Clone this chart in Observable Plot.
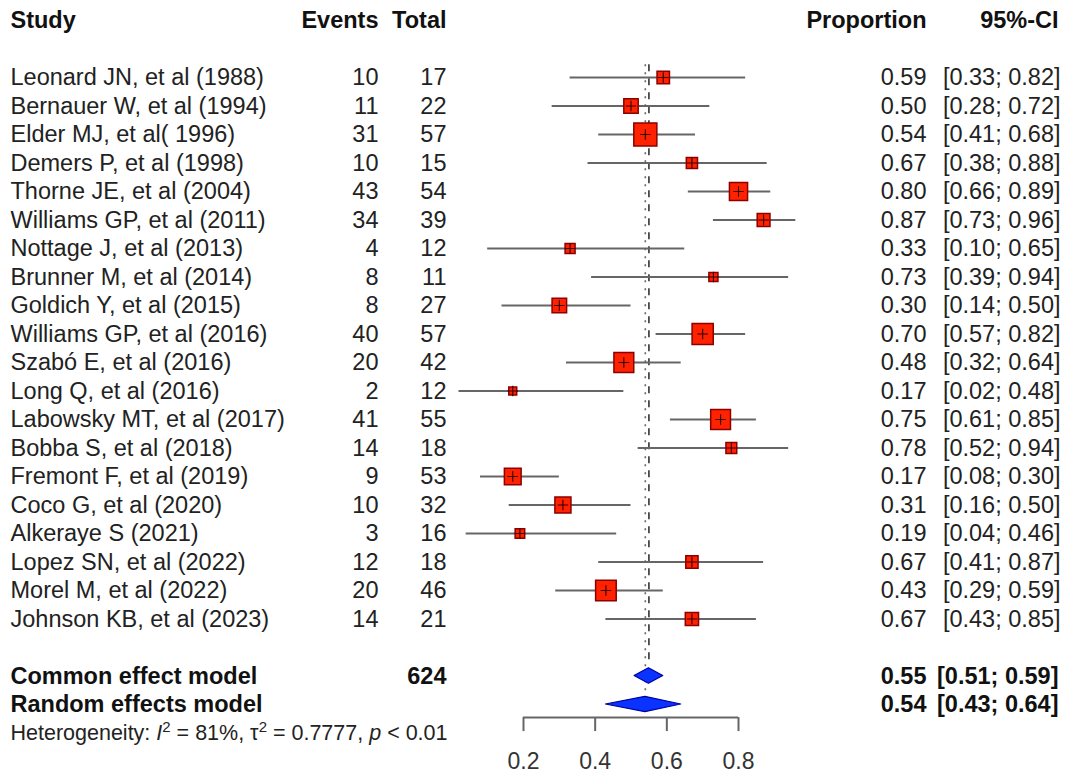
<!DOCTYPE html>
<html>
<head>
<meta charset="utf-8">
<script src="https://cdn.jsdelivr.net/npm/d3@7"></script>
<script src="https://cdn.jsdelivr.net/npm/@observablehq/plot@0.6"></script>
<style>
  html, body { margin: 0; padding: 0; background: #fff; }
  #chart svg { display: block; }
</style>
</head>
<body>
<div id="chart"></div>
<script>
// ---- data ----
const studies = [
  "Leonard JN, et al (1988)", "Bernauer W, et al (1994)", "Elder MJ, et al( 1996)",
  "Demers P, et al (1998)", "Thorne JE, et al (2004)", "Williams GP, et al (2011)",
  "Nottage J, et al (2013)", "Brunner M, et al (2014)", "Goldich Y, et al (2015)",
  "Williams GP, et al (2016)", "Szabó E, et al (2016)", "Long Q, et al (2016)",
  "Labowsky MT, et al (2017)", "Bobba S, et al (2018)", "Fremont F, et al (2019)",
  "Coco G, et al (2020)", "Alkeraye S (2021)", "Lopez SN, et al (2022)",
  "Morel M, et al (2022)", "Johnson KB, et al (2023)"
];
const events = [10, 11, 31, 10, 43, 34, 4, 8, 8, 40, 20, 2, 41, 14, 9, 10, 3, 12, 20, 14];
const totals = [17, 22, 57, 15, 54, 39, 12, 11, 27, 57, 42, 12, 55, 18, 53, 32, 16, 18, 46, 21];
const props  = [0.59, 0.50, 0.54, 0.67, 0.80, 0.87, 0.33, 0.73, 0.30, 0.70, 0.48, 0.17, 0.75, 0.78, 0.17, 0.31, 0.19, 0.67, 0.43, 0.67];
const lowers = [0.33, 0.28, 0.41, 0.38, 0.66, 0.73, 0.10, 0.39, 0.14, 0.57, 0.32, 0.02, 0.61, 0.52, 0.08, 0.16, 0.04, 0.41, 0.29, 0.43];
const uppers = [0.82, 0.72, 0.68, 0.88, 0.89, 0.96, 0.65, 0.94, 0.50, 0.82, 0.64, 0.48, 0.85, 0.94, 0.30, 0.50, 0.46, 0.87, 0.59, 0.85];

const modelNames  = ["Common effect model", "Random effects model"];
const modelEst    = [0.55, 0.54];
const modelLower  = [0.51, 0.43];
const modelUpper  = [0.59, 0.64];
const totalN      = 624;

const headers = ["Study", "Events", "Total", "Proportion", "95%-CI"];
const heterogeneity = "Heterogeneity: I2 = 81%, τ2 = 0.7777, p < 0.01";
const ticks = [0.2, 0.4, 0.6, 0.8];

// ---- layout (rows) ----
const headerRow = -1;
const rows = studies.map((s, i) => ({
  row: i + 1,
  study: s,
  events: events[i],
  total: totals[i],
  p: props[i],
  lo: lowers[i],
  hi: uppers[i],
  w: events[i] * (totals[i] - events[i]) / totals[i] // inverse-variance (logit) weight
}));
const firstModelRow = studies.length + 2;
const models = modelNames.map((m, i) => ({
  row: firstModelRow + i, name: m, est: modelEst[i], lo: modelLower[i], hi: modelUpper[i]
}));
const hetRow = firstModelRow + 2;
const axisRow = firstModelRow + 1.46;
const tickEndRow = firstModelRow + 1.95;
const tickLabelRow = firstModelRow + 3;
const halfDiamond = 0.27;

const diamondPts = models.flatMap(m => [
  {name: m.name, x: m.lo,  y1: m.row, y2: m.row},
  {name: m.name, x: m.est, y1: m.row - halfDiamond, y2: m.row + halfDiamond},
  {name: m.name, x: m.hi,  y1: m.row, y2: m.row}
]);

const ML = 523, MR = 338;
const col = (px) => ({frameAnchor: "left", dx: px - ML});
const font = "Liberation Sans, Arial, Helvetica, sans-serif";
const fs = 23.5;
const fmt2 = d => d.toFixed(2);
const ciText = (lo, hi) => `[${fmt2(lo)}; ${fmt2(hi)}]`;

const chart = Plot.plot({
  width: 1076,
  height: 776,
  marginLeft: ML,
  marginRight: MR,
  marginTop: 20,
  marginBottom: 15,
  style: {fontFamily: font, background: "#fff"},
  x: {domain: [d3.min(ticks), d3.max(ticks)], axis: null},
  y: {domain: [headerRow, tickLabelRow], reverse: true, axis: null},
  r: {type: "sqrt", domain: [0, d3.max(rows, d => d.w)], range: [0, 13]},
  marks: [
    // reference lines
    Plot.ruleX([modelEst[1]], {y1: 0.55, y2: models[1].row - halfDiamond, stroke: "#666", strokeWidth: 1.6, strokeDasharray: "2,6"}),
    Plot.ruleX([modelEst[0]], {y1: 0.55, y2: models[0].row - halfDiamond - 0.2, stroke: "#333", strokeWidth: 1.6, strokeDasharray: "7,7"}),
    // CI lines
    Plot.ruleY(rows, {y: "row", x1: "lo", x2: "hi", stroke: "#666", strokeWidth: 1.8}),
    // squares
    Plot.dot(rows, {x: "p", y: "row", r: "w", symbol: "square", fill: "#ff2200", stroke: "#8b0000", strokeWidth: 1.5, fillOpacity: 1}),
    Plot.dot(rows, {x: "p", y: "row", r: 3.5, symbol: "plus", stroke: "#300", strokeWidth: 1.1}),
    // diamonds
    Plot.areaY(diamondPts, {x: "x", y1: "y1", y2: "y2", z: "name", fill: "#0a33ff", stroke: "#0000a0", strokeWidth: 1.2}),
    // x axis
    Plot.ruleY([axisRow], {x1: d3.min(ticks), x2: d3.max(ticks), stroke: "#666", strokeWidth: 2}),
    Plot.ruleX(ticks, {x: d => d, y1: axisRow, y2: tickEndRow, stroke: "#666", strokeWidth: 2}),
    Plot.text(ticks, {x: d => d, y: tickLabelRow, text: d => d.toFixed(1), fontSize: 23, fill: "#333"}),
    // headers
    Plot.text([headers[0]], {y: headerRow, text: d => d, ...col(10), textAnchor: "start", fontSize: fs, fontWeight: "bold", fill: "#111"}),
    Plot.text([headers[1]], {y: headerRow, text: d => d, ...col(378), textAnchor: "end", fontSize: fs, fontWeight: "bold", fill: "#111"}),
    Plot.text([headers[2]], {y: headerRow, text: d => d, ...col(446), textAnchor: "end", fontSize: fs, fontWeight: "bold", fill: "#111"}),
    Plot.text([headers[3]], {y: headerRow, text: d => d, ...col(926), textAnchor: "end", fontSize: fs, fontWeight: "bold", fill: "#111"}),
    Plot.text([headers[4]], {y: headerRow, text: d => d, ...col(1058), textAnchor: "end", fontSize: fs, fontWeight: "bold", fill: "#111"}),
    // study rows
    Plot.text(rows, {y: "row", text: "study", ...col(10), textAnchor: "start", fontSize: fs, fill: "#222"}),
    Plot.text(rows, {y: "row", text: d => String(d.events), ...col(378), textAnchor: "end", fontSize: fs, fill: "#222"}),
    Plot.text(rows, {y: "row", text: d => String(d.total), ...col(446), textAnchor: "end", fontSize: fs, fill: "#222"}),
    Plot.text(rows, {y: "row", text: d => fmt2(d.p), ...col(926), textAnchor: "end", fontSize: fs, fill: "#222"}),
    Plot.text(rows, {y: "row", text: d => ciText(d.lo, d.hi), ...col(1060), textAnchor: "end", fontSize: fs, fill: "#222"}),
    // model rows
    Plot.text(models, {y: "row", text: "name", ...col(10), textAnchor: "start", fontSize: fs, fontWeight: "bold", fill: "#111"}),
    Plot.text([models[0]], {y: "row", text: () => String(totalN), ...col(446), textAnchor: "end", fontSize: fs, fontWeight: "bold", fill: "#111"}),
    Plot.text(models, {y: "row", text: d => fmt2(d.est), ...col(926), textAnchor: "end", fontSize: fs, fontWeight: "bold", fill: "#111"}),
    Plot.text(models, {y: "row", text: d => ciText(d.lo, d.hi), ...col(1058), textAnchor: "end", fontSize: fs, fontWeight: "bold", fill: "#111"}),
    // heterogeneity
    Plot.text([heterogeneity], {y: hetRow, text: d => d, ...col(10), textAnchor: "start", fontSize: 21.5, fill: "#222"})
  ]
});
document.getElementById("chart").appendChild(chart);

// rich formatting of the heterogeneity line (italic I and p, raised 2s)
const het = d3.select(chart).selectAll("text").filter(function() {
  return this.textContent.startsWith("Heterogeneity");
});
if (!het.empty()) {
  het.text(null);
  const parts = [
    ["Heterogeneity: ", null],
    ["I", "it"], ["2", "sup"],
    [" = 81%, τ", "after"], ["2", "sup"],
    [" = 0.7777, ", "after"],
    ["p", "it"], [" < 0.01", null]
  ];
  for (const [t, kind] of parts) {
    const ts = het.append("tspan").text(t);
    if (kind === "it") ts.attr("font-style", "italic");
    if (kind === "sup") ts.attr("font-size", 15).attr("dy", -8);
    if (kind === "after") ts.attr("dy", 8);
  }
}
</script>
</body>
</html>
